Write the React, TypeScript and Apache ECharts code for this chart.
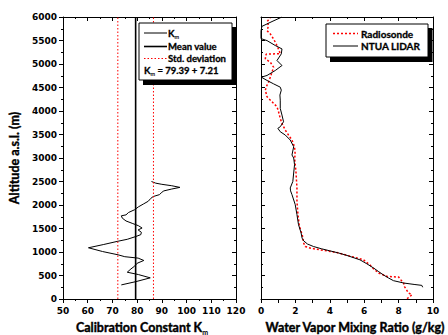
import React, { useEffect, useRef } from "react";
import * as echarts from "echarts";

// Left panel: calibration constant profile [altitude (m), K_m]
const K_PROFILE: [number, number][] = [
  [300, 73.6], [370, 79.5], [450, 85.3], [520, 80.5], [570, 76.0], [640, 77.5],
  [700, 79.0], [760, 80.0], [820, 82.7], [870, 80.4], [900, 75.0], [940, 72.3],
  [1010, 66.0], [1090, 60.3], [1160, 66.5], [1230, 72.3], [1270, 76.0], [1330, 79.5],
  [1370, 81.5], [1420, 81.7], [1470, 80.4], [1510, 82.0], [1560, 80.5], [1610, 78.0],
  [1660, 75.5], [1720, 74.0], [1770, 73.6], [1790, 75.5], [1840, 76.5], [1900, 79.0],
  [1960, 80.5], [2020, 82.5], [2080, 84.5], [2140, 85.5], [2180, 86.5], [2220, 89.0],
  [2270, 90.0], [2300, 90.8], [2340, 94.0], [2375, 97.3], [2410, 94.0], [2440, 90.0],
  [2465, 87.5], [2500, 85.8],
];
const K_MEAN = 79.39;
const K_STD = 7.21;
const ALT_RANGE = [0, 6000];

// Right panel: water vapor mixing ratio [altitude (m), g/kg]
const LIDAR: [number, number][] = [
  [250, 9.4], [290, 9.35], [310, 8.9], [340, 8.3], [390, 7.7], [450, 7.4], [516, 7.1],
  [580, 6.85], [658, 6.55], [750, 6.15], [834, 5.75], [926, 5.0], [980, 4.5], [1025, 4.0],
  [1070, 3.5], [1117, 3.05], [1170, 2.7], [1238, 2.48], [1295, 2.39], [1408, 2.33],
  [1584, 2.18], [1796, 2.09], [2008, 1.99], [2221, 1.8], [2300, 1.72], [2363, 1.7],
  [2500, 1.85], [2681, 1.9], [2858, 1.95], [3000, 1.9], [3064, 1.8], [3240, 1.9],
  [3382, 1.7], [3489, 1.41], [3559, 1.12], [3631, 0.98], [3665, 1.12], [3771, 1.31],
  [3913, 1.22], [4055, 1.12], [4231, 1.12], [4340, 1.1], [4444, 1.18], [4507, 1.12],
  [4578, 0.73], [4650, 0.35], [4720, 0.02], [4756, 0.35], [4862, 0.83], [4968, 1.22],
  [5074, 0.93], [5215, 1.18], [5321, 1.22], [5393, 0.83], [5498, 0.35], [5540, 0.0],
  [5700, 0.0], [5800, 0.05], [5903, 0.64], [6000, 1.22],
];
const RADIOSONDE: [number, number][] = [
  [6, 8.49], [50, 8.65], [91, 8.78], [127, 8.58], [200, 8.45], [260, 8.35], [340, 8.29],
  [400, 8.15], [467, 8.0], [480, 7.33], [552, 6.84], [640, 6.55], [714, 6.36], [834, 5.96],
  [892, 5.38], [940, 4.9], [989, 4.41], [1047, 3.44], [1080, 2.9], [1117, 2.57],
  [1200, 2.47], [1295, 2.44], [1372, 2.39], [1549, 2.23], [1796, 2.15], [2081, 2.09],
  [2363, 2.09], [2718, 2.03], [3000, 1.95], [3064, 1.99], [3240, 1.95], [3382, 1.8],
  [3489, 1.6], [3594, 1.41], [3736, 1.22], [3842, 1.12], [3983, 1.02], [4090, 0.93],
  [4196, 0.64], [4302, 0.35], [4444, 0.25], [4550, 0.35], [4614, 0.44], [4720, 0.54],
  [4826, 0.64], [4932, 0.73], [5038, 0.54], [5110, 0.25], [5210, 0.3], [5220, 1.12],
  [5393, 0.93], [5533, 0.73], [5640, 0.54], [5711, 0.35], [5817, 0.44], [5903, 0.35],
  [5975, 0.54],
];

const TICK_FONT = "DejaVu Sans";
const TITLE_FONT = "Lato";

const toXY = (d: [number, number][]) => d.map(([a, v]) => [v, a]);

export default function App() {
  const ref = useRef<HTMLDivElement>(null);
  useEffect(() => {
    if (!ref.current) return;
    const chart = echarts.init(ref.current, undefined, { renderer: "svg" });
    const line = { color: "#000", width: 1 };
    const baseAxis = (extra: any) => ({
      axisLine: { show: true, onZero: false, lineStyle: line },
      splitLine: { show: false },
      axisTick: { show: true, inside: true, length: 4, lineStyle: line },
      minorTick: { show: true, splitNumber: 2, length: 2, lineStyle: line },
      axisLabel: { show: false },
      ...extra,
    });
    const tickLabel = {
      show: true,
      color: "#000",
      fontFamily: TICK_FONT,
      fontWeight: "bold",
      fontSize: 9,
      formatter: (v: number) => String(v),
    };
    const W = "bold";
    const rich = {
      b: { fontFamily: TITLE_FONT, fontWeight: W, fontSize: 9.5, fill: "#000", stroke: "#000", lineWidth: 0.3 },
      s: {
        fontFamily: TITLE_FONT,
        fontWeight: W,
        fontSize: 5.5,
        fill: "#000",
        padding: [7, 0, 0, 0],
      },
      T: { fontFamily: TITLE_FONT, fontWeight: W, fontSize: 12.5, fill: "#000", stroke: "#000", lineWidth: 0.4 },
      S: {
        fontFamily: TITLE_FONT,
        fontWeight: W,
        fontSize: 7,
        fill: "#000",
        padding: [9, 0, 0, 0],
      },
    };
    const option: any = {
      animation: false,
      grid: [
        { left: 63, top: 17, width: 173, height: 282 },
        { left: 261, top: 17, width: 172, height: 282 },
      ],
      xAxis: [
        baseAxis({
          gridIndex: 0, type: "value", min: 50, max: 120, interval: 10, position: "bottom",
          axisTick: { show: true, inside: false, length: 4, lineStyle: line },
          axisLabel: { ...tickLabel, margin: 7 },
        }),
        baseAxis({ gridIndex: 0, type: "value", min: 50, max: 120, interval: 10, position: "top" }),
        baseAxis({
          gridIndex: 1, type: "value", min: 0, max: 10, interval: 2, position: "bottom",
          axisTick: { show: true, inside: false, length: 4, lineStyle: line },
          minorTick: { show: true, splitNumber: 2, length: 4, lineStyle: line },
          axisLabel: { ...tickLabel, margin: 7 },
        }),
        baseAxis({ gridIndex: 1, type: "value", min: 0, max: 10, interval: 2, position: "top" }),
      ],
      yAxis: [
        baseAxis({
          gridIndex: 0, type: "value", min: ALT_RANGE[0], max: ALT_RANGE[1], interval: 500, position: "left",
          axisTick: { show: true, inside: false, length: 4, lineStyle: line },
          axisLabel: { ...tickLabel, margin: 6 },
        }),
        baseAxis({ gridIndex: 0, type: "value", min: ALT_RANGE[0], max: ALT_RANGE[1], interval: 500, position: "right" }),
        baseAxis({ gridIndex: 1, type: "value", min: ALT_RANGE[0], max: ALT_RANGE[1], interval: 500, position: "left" }),
        baseAxis({ gridIndex: 1, type: "value", min: ALT_RANGE[0], max: ALT_RANGE[1], interval: 500, position: "right" }),
      ],
      series: [
        {
          type: "line", xAxisIndex: 0, yAxisIndex: 0, data: toXY(K_PROFILE),
          symbol: "none", lineStyle: { color: "#000", width: 1 },
        },
        {
          type: "line", xAxisIndex: 0, yAxisIndex: 0,
          data: [[K_MEAN, ALT_RANGE[0]], [K_MEAN, ALT_RANGE[1]]],
          symbol: "none", lineStyle: { color: "#000", width: 1.6 },
        },
        {
          type: "line", xAxisIndex: 0, yAxisIndex: 0,
          data: [[K_MEAN - K_STD, ALT_RANGE[0]], [K_MEAN - K_STD, ALT_RANGE[1]]],
          symbol: "none", lineStyle: { color: "#ff0000", width: 1, type: [1.5, 2] },
        },
        {
          type: "line", xAxisIndex: 0, yAxisIndex: 0,
          data: [[K_MEAN + K_STD, ALT_RANGE[0]], [K_MEAN + K_STD, ALT_RANGE[1]]],
          symbol: "none", lineStyle: { color: "#ff0000", width: 1, type: [1.5, 2] },
        },
        {
          type: "line", xAxisIndex: 2, yAxisIndex: 2, data: toXY(RADIOSONDE),
          symbol: "none", lineStyle: { color: "#ff0000", width: 1.5, type: [2, 2] },
        },
        {
          type: "line", xAxisIndex: 2, yAxisIndex: 2, data: toXY(LIDAR),
          symbol: "none", lineStyle: { color: "#000", width: 1 },
        },
      ],
      graphic: [
        {
          type: "text", x: 14, y: 158, rotation: Math.PI / 2, z: 100,
          style: {
            text: "Altitude a.s.l. (m)", fontFamily: TITLE_FONT, fontWeight: W,
            fontSize: 12.5, fill: "#000", stroke: "#000", lineWidth: 0.4,
            align: "center", verticalAlign: "middle",
          },
        },
        {
          type: "text", x: 142, y: 327, z: 100,
          style: {
            text: "{T|Calibration Constant K}{S|m}", rich,
            align: "center", verticalAlign: "middle",
          },
        },
        {
          type: "text", x: 355, y: 327, z: 100,
          style: {
            text: "Water Vapor Mixing Ratio (g/kg)", fontFamily: TITLE_FONT, fontWeight: W,
            fontSize: 12.5, fill: "#000", stroke: "#000", lineWidth: 0.4,
            align: "center", verticalAlign: "middle",
          },
        },
        // Left legend
        { type: "rect", z: 100, shape: { x: 143, y: 27, width: 93.5, height: 58 }, style: { fill: "#000" } },
        { type: "rect", z: 101, shape: { x: 139, y: 23, width: 93, height: 57 }, style: { fill: "#fff", stroke: "#000", lineWidth: 1 } },
        { type: "line", z: 102, shape: { x1: 144, y1: 33, x2: 167, y2: 33 }, style: { stroke: "#000", lineWidth: 1 } },
        { type: "text", z: 102, x: 168, y: 33, style: { text: "{b|K}{s|m}", rich, verticalAlign: "middle" } },
        { type: "line", z: 102, shape: { x1: 144, y1: 46.5, x2: 167, y2: 46.5 }, style: { stroke: "#000", lineWidth: 1.6 } },
        { type: "text", z: 102, x: 168, y: 46.5, style: { text: "{b|Mean value}", rich, verticalAlign: "middle" } },
        { type: "line", z: 102, shape: { x1: 144, y1: 58.5, x2: 167, y2: 58.5 }, style: { stroke: "#ff0000", lineWidth: 1, lineDash: [1.5, 2] } },
        { type: "text", z: 102, x: 168, y: 58.5, style: { text: "{b|Std. deviation}", rich, verticalAlign: "middle" } },
        { type: "text", z: 102, x: 144, y: 70.5, style: { text: `{b|K}{s|m}{b| = ${K_MEAN} + ${K_STD}}`, rich, verticalAlign: "middle" } },
        // Right legend
        { type: "rect", z: 100, shape: { x: 330, y: 28, width: 102.5, height: 34 }, style: { fill: "#000" } },
        { type: "rect", z: 101, shape: { x: 326, y: 24, width: 102, height: 33 }, style: { fill: "#fff", stroke: "#000", lineWidth: 1 } },
        { type: "line", z: 102, shape: { x1: 333, y1: 33.5, x2: 358, y2: 33.5 }, style: { stroke: "#ff0000", lineWidth: 1.5, lineDash: [2, 2] } },
        { type: "text", z: 102, x: 361, y: 33.5, style: { text: "Radiosonde", fontFamily: TITLE_FONT, fontWeight: W, fontSize: 10, fill: "#000", stroke: "#000", lineWidth: 0.3, verticalAlign: "middle" } },
        { type: "line", z: 102, shape: { x1: 333, y1: 46, x2: 358, y2: 46 }, style: { stroke: "#000", lineWidth: 1 } },
        { type: "text", z: 102, x: 361, y: 46, style: { text: "NTUA LIDAR", fontFamily: TITLE_FONT, fontWeight: W, fontSize: 10, fill: "#000", stroke: "#000", lineWidth: 0.3, verticalAlign: "middle" } },
      ],
    };
    chart.setOption(option);
    return () => chart.dispose();
  }, []);
  return <div ref={ref} style={{ width: 448, height: 335, position: "absolute", left: 0, top: 0 }} />;
}
